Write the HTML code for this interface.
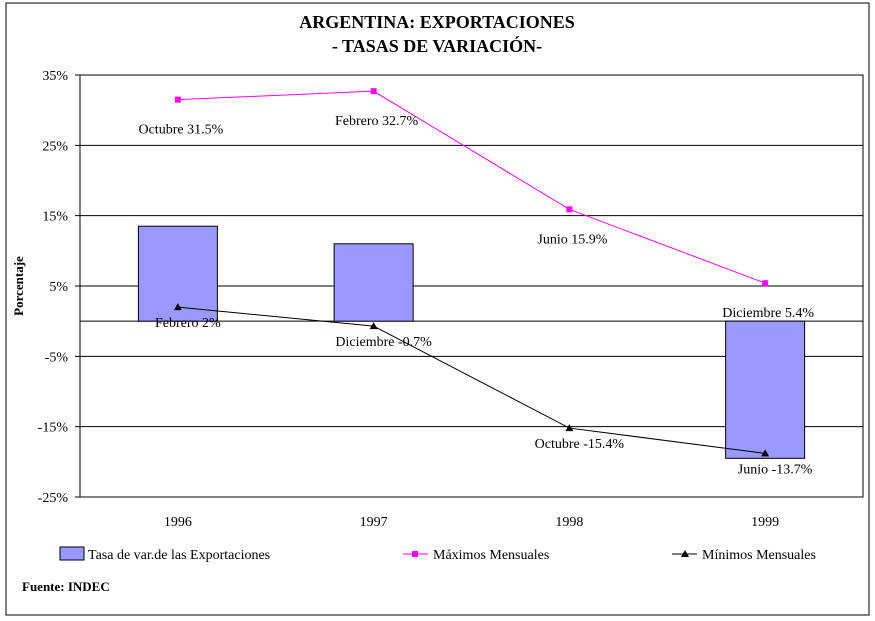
<!DOCTYPE html>
<html><head><meta charset="utf-8"><style>
body{margin:0;background:#fff;}
svg{display:block;font-family:"Liberation Serif",serif;}
</style></head><body>
<svg width="875" height="621">
<rect x="6" y="3" width="863" height="612" fill="#fff" stroke="#000"/>
<text x="437" y="28" text-anchor="middle" font-weight="bold" font-size="18">ARGENTINA: EXPORTACIONES</text>
<text x="437" y="52" text-anchor="middle" font-weight="bold" font-size="18">- TASAS DE VARIACIÓN-</text>
<g id="plot"></g>
<text transform="translate(23,286) rotate(-90)" text-anchor="middle" font-weight="bold" font-size="13">Porcentaje</text>
<g>
<rect x="60" y="547" width="24" height="13" fill="#9999ff" stroke="#000"/>
<text x="88" y="559" font-size="14">Tasa de var.de las Exportaciones</text>
<line x1="403" y1="554" x2="428" y2="554" stroke="#ff00ff"/>
<rect x="412" y="551" width="6" height="6" fill="#ff00ff"/>
<text x="433" y="559" font-size="14">Máximos Mensuales</text>
<line x1="672" y1="554" x2="697" y2="554" stroke="#000"/>
<polygon points="685,550 681,557 689,557" fill="#000"/>
<text x="702" y="559" font-size="14">Mínimos Mensuales</text>
</g>
<text x="22" y="591" font-weight="bold" font-size="13">Fuente: INDEC</text>
</svg>
<script>
const categories=["1996","1997","1998","1999"];
const exportRates=[13.5,11.0,0,-19.5];
const maxValues=[31.5,32.7,15.9,5.4];
const maxLabels=["Octubre 31.5%","Febrero 32.7%","Junio 15.9%","Diciembre 5.4%"];
const minValues=[2,-0.7,-15.2,-18.8];
const minLabels=["Febrero 2%","Diciembre -0.7%","Octubre -15.4%","Junio -13.7%"];
const yTicks=[35,25,15,5,-5,-15,-25];
const yTickLabels=["35%","25%","15%","5%","-5%","-15%","-25%"];

const NS="http://www.w3.org/2000/svg";
const L=80,R=863,T=75,B=497,ymax=35,ymin=-25;
const y=v=>T+(ymax-v)/(ymax-ymin)*(B-T);
const bw=(R-L)/categories.length;
const x=i=>L+bw*(i+0.5);
const g=document.getElementById('plot');
function mk(tag,attrs){const e=document.createElementNS(NS,tag);for(const k in attrs)e.setAttribute(k,attrs[k]);g.appendChild(e);return e;}
let e=mk('rect',{x:L,y:T,width:R-L,height:B-T,fill:'#fff',stroke:'#000'});


yTicks.forEach((t,i)=>{
 let l=mk('line',{x1:L-5,x2:R,y1:y(t),y2:y(t),stroke:'#000'});
 
 
 let tx=mk('text',{x:L-12,y:y(t)+5,'text-anchor':'end','font-size':14});
 tx.textContent=yTickLabels[i];
 
 
});
let z=mk('line',{x1:L,x2:R,y1:y(0),y2:y(0),stroke:'#000'});


categories.forEach((c,i)=>{
 const v=exportRates[i];
 if(v!==0){
  let r=mk('rect',{x:x(i)-39.5,y:Math.min(y(v),y(0)),width:79,height:Math.abs(y(v)-y(0)),fill:'#9999ff',stroke:'#000'});
  
  
 }
 let t=mk('text',{x:x(i),y:B+29,'text-anchor':'middle','font-size':14});
 t.textContent=c;
 
 
});
let pm=mk('polyline',{points:maxValues.map((v,i)=>x(i)+','+y(v)).join(' '),fill:'none',stroke:'#ff00ff'});


let pn=mk('polyline',{points:minValues.map((v,i)=>x(i)+','+y(v)).join(' '),fill:'none',stroke:'#000'});


maxValues.forEach((v,i)=>{
 let m=mk('rect',{x:x(i)-3,y:y(v)-3,width:6,height:6,fill:'#ff00ff'});
 
 
 let t=mk('text',{x:x(i)+3,y:y(v)+34,'text-anchor':'middle','font-size':14});
 t.textContent=maxLabels[i];
 
 
});
minValues.forEach((v,i)=>{
 const cx=x(i),cy=y(v);
 let m=mk('polygon',{points:`${cx},${cy-4} ${cx-4},${cy+3} ${cx+4},${cy+3}`,fill:'#000'});
 
 
 let t=mk('text',{x:cx+10,y:cy+20,'text-anchor':'middle','font-size':14});
 t.textContent=minLabels[i];
 
 
});
</script>
</body></html>
